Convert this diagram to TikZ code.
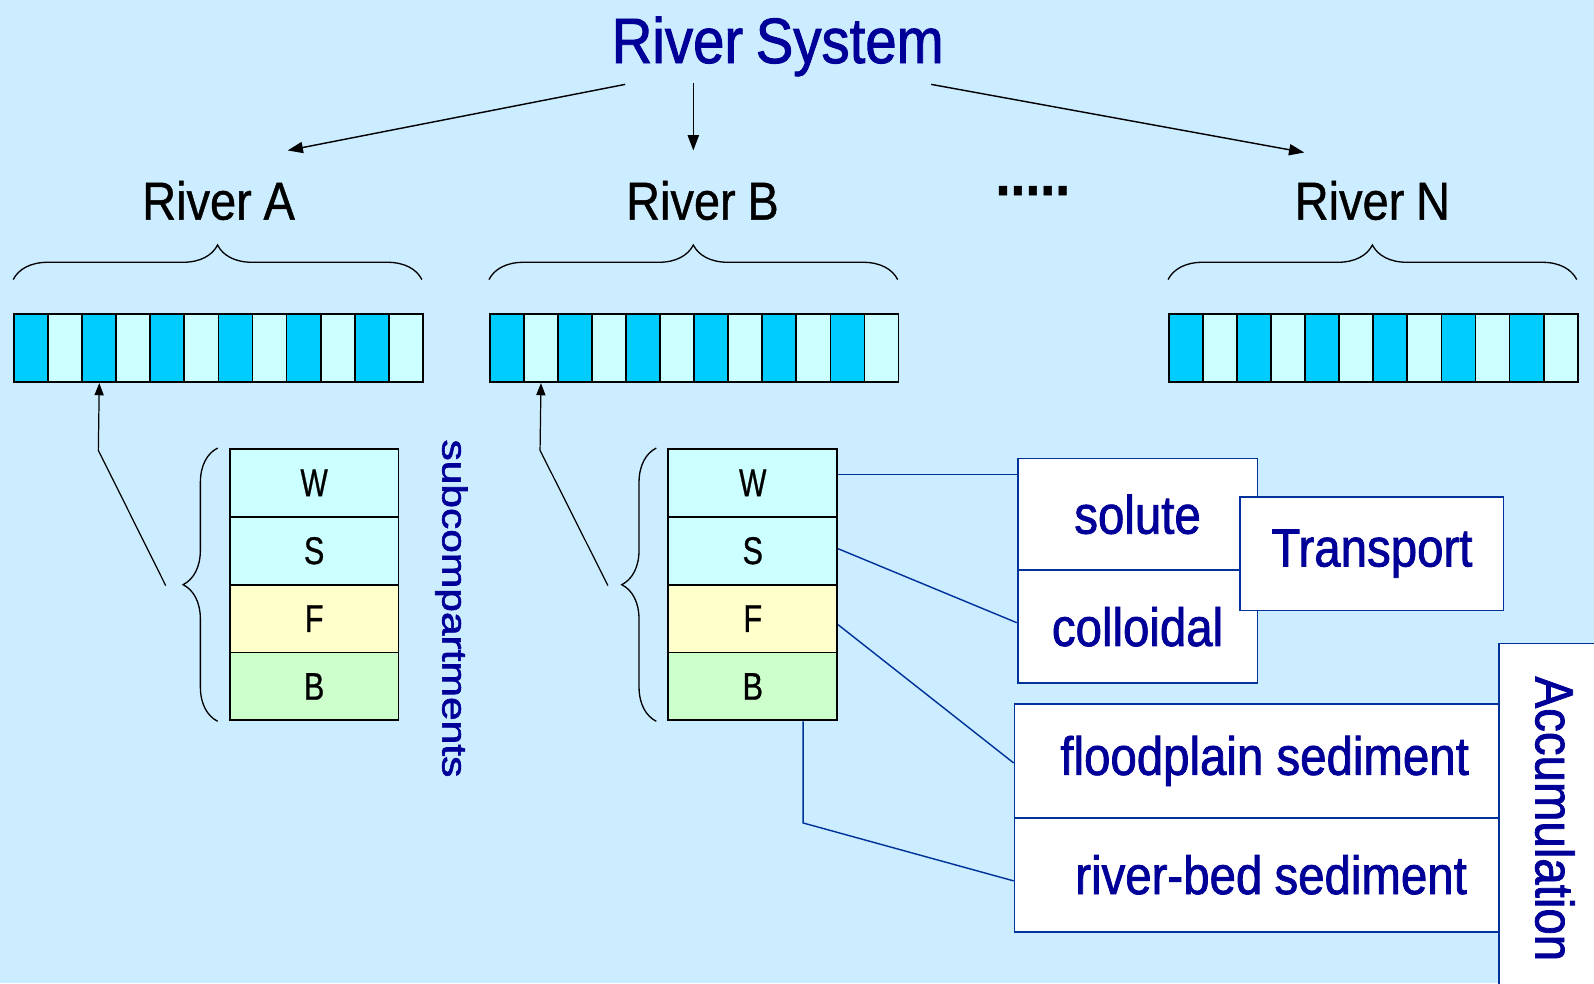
\documentclass[tikz,border=0pt]{standalone}
\usepackage{fontspec}
\setmainfont{Liberation Sans}[FakeStretch=0.88, FakeBold=0.8, WordSpace=0.9]
\newfontfamily\bluefont{Liberation Sans}[FakeStretch=0.88, FakeBold=1.4, WordSpace=0.8]
\newfontfamily\subfont{Liberation Sans}[FakeBold=1.6]
\usetikzlibrary{decorations.pathreplacing,arrows.meta,calc}
\definecolor{bg}{HTML}{CCECFF}
\definecolor{navy}{HTML}{000099}
\definecolor{cdark}{HTML}{00CCFF}
\definecolor{clight}{HTML}{CCFFFF}
\definecolor{cyel}{HTML}{FFFFCC}
\definecolor{cgreen}{HTML}{CCFFCC}
\definecolor{lblue}{HTML}{003399}
\begin{document}
\begin{tikzpicture}[x=1pt,y=-1pt,
  cell/.style={draw=black, line width=1.8pt, minimum width=33.5pt, minimum height=67pt, inner sep=0pt, anchor=north west},
  sub/.style={draw=black, line width=1.8pt, minimum width=166pt, minimum height=66.75pt, inner sep=0pt, font=\fontsize{38}{42}\selectfont},
  bluebox/.style={draw=lblue, line width=1.8pt, fill=white, inner sep=0pt, text=navy, font=\bluefont\fontsize{53}{60}\selectfont},
  conn/.style={draw=lblue, line width=1.4pt},
  arr/.style={line width=1.4pt, -{Triangle[length=15pt,width=11pt]}},
  uparr/.style={line width=1.2pt, -{Triangle[length=12pt,width=9pt]}},
  brc/.style={decorate, decoration={brace, amplitude=34pt}, line width=1.3pt},
  riv/.style={font=\fontsize{52.5}{58}\selectfont, anchor=base, inner sep=0pt},
]
\fill[bg] (0,0) rectangle (1568,967);
\useasboundingbox (0,0) rectangle (1568,967);

% title and rivers
\node[anchor=base, inner sep=0pt, text=navy, font=\bluefont\fontsize{63}{68}\selectfont] (title) at (765,62) {River System};
\node[riv] (rA) at (215,216) {River A};
\node[riv] (rB) at (691,216) {River B};
\node[riv] (rN) at (1350,216) {River N};
\node[anchor=base, inner sep=0pt, font=\fontsize{60}{60}\selectfont\bfseries] (dots) at (1016,192) {.....};

% arrows from title
\coordinate (sA) at (615,83);  \coordinate (eA) at (283,148);
\coordinate (sB) at (682,82);  \coordinate (eB) at (682,148);
\coordinate (sN) at (916,83);  \coordinate (eN) at (1283,150);
\draw[arr] (sA) -- (eA);
\draw[arr] (sB) -- (eB);
\draw[arr] (sN) -- (eN);

% braces over bars
\draw[brc] (13,275) -- (415,275);
\draw[brc] (481,275) -- (883,275);
\draw[brc] (1149,275) -- (1551,275);

% bars
\foreach \b/\x in {A/13, B/481, N/1149} {
  \foreach \i in {1,...,12} {
    \ifodd\i \def\col{cdark}\else \def\col{clight}\fi
    \node[cell, fill=\col] (bar\b-\i) at ({\x+33.5*(\i-1)},308) {};
  }
}

% subcompartment stacks
\foreach \s/\cx in {a/309, b/740.5} {
  \node[sub, fill=clight] (\s W) at (\cx,475) {\scalebox{0.85}[1]{W}};
  \node[sub, fill=clight] (\s S) at (\cx,541.75) {\scalebox{0.9}[1]{S}};
  \node[sub, fill=cyel] (\s F) at (\cx,608.5) {\scalebox{0.9}[1]{F}};
  \node[sub, fill=cgreen] (\s B) at (\cx,675.25) {\scalebox{0.9}[1]{B}};
  \draw[brc] ([xshift=-11pt]\s B.south west) -- ([xshift=-11pt]\s W.north west);
}

% up arrows
\coordinate (pA) at (163,576); \coordinate (qA) at (96.75,443);
\coordinate (pB) at (598,576); \coordinate (qB) at (531.25,443);
\draw[uparr] (pA) -- (qA) -- (barA-3.south);
\draw[uparr] (pB) -- (qB) -- (barB-2.south);

\node[rotate=-90, inner sep=0pt, text=navy, font=\subfont\fontsize{34}{40}\selectfont] (subc) at (444,598.5) {\scalebox{1.23}[1]{subcompartments}};

% blue boxes
\node[bluebox, minimum width=236pt, minimum height=110pt] (solute) at (1119,506) {solute};
\node[bluebox, minimum width=236pt, minimum height=111pt] (colloidal) at (1119,616.5) {colloidal};
\node[bluebox, minimum width=259pt, minimum height=112pt] (transport) at (1349.5,544.5) {Transport};
\node[bluebox, minimum width=476pt, minimum height=112pt, text width=418pt, align=right] (flood) at (1236,748.5) {floodplain\hspace{13pt}sediment};
\node[bluebox, minimum width=476pt, minimum height=112pt, text width=414pt, align=right] (riverbed) at (1236,860.5) {river-bed\hspace{12pt}sediment};
\node[bluebox, rotate=-90, minimum width=345pt, minimum height=110pt] (acc) at (1529.5,805.5) {Accumulation};

% connectors
\coordinate (cw) at ([yshift=8pt]bW.east);
\draw[conn] (cw) -- (cw -| solute.west);
\draw[conn] ([yshift=2pt]bS.east) -- ([yshift=4pt]colloidal.west);
\draw[conn] ([yshift=-6pt]bF.east) -- ([yshift=-2pt]flood.west);
\coordinate (cb) at ([xshift=49.5pt]bB.south);
\draw[conn] (cb) -- ++(0,100) -- ([yshift=-6pt]riverbed.west);
\end{tikzpicture}
\end{document}
